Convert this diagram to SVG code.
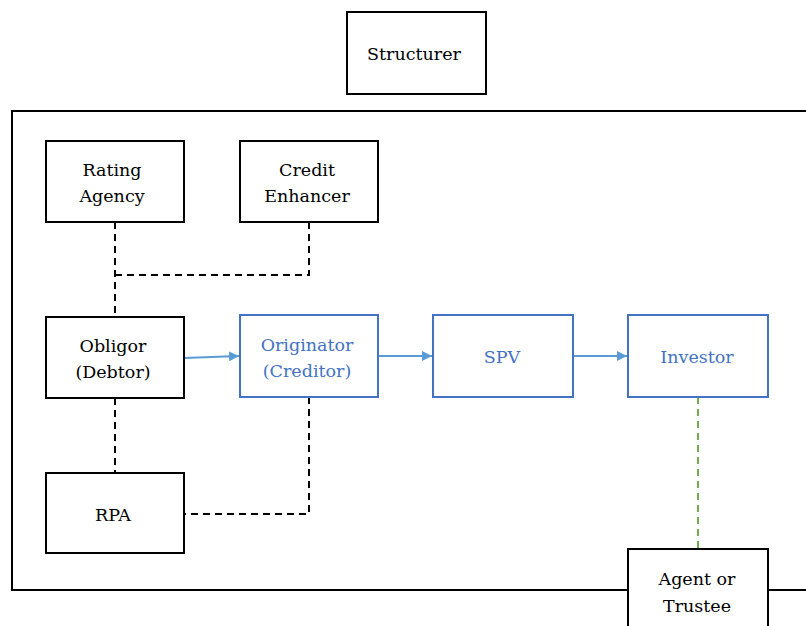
<svg xmlns="http://www.w3.org/2000/svg" width="806" height="626" viewBox="0 0 806 626">
<defs>
<style>
.b{fill:#fff;stroke:#000;stroke-width:2}
.bl{fill:#fff;stroke:#4472c4;stroke-width:2}
text{font-family:"DejaVu Serif","Liberation Serif",serif;font-size:17.5px;text-anchor:middle}
.t{fill:#000}
.tb{fill:#4472c4}
.d{fill:none;stroke:#000;stroke-width:2;stroke-dasharray:7,5}
.g{fill:none;stroke:#70ad47;stroke-width:2;stroke-dasharray:7,5}
.a{fill:none;stroke:#5b9bd5;stroke-width:2;marker-end:url(#ah)}
</style>
<marker id="ah" viewBox="0 0 10 10" refX="10" refY="5" markerWidth="5" markerHeight="5" orient="auto" markerUnits="strokeWidth">
<path d="M0,0 L10,5 L0,10 z" fill="#5b9bd5"/>
</marker>
</defs>
<rect width="806" height="626" fill="#fff"/>
<g id="frame"><rect x="12" y="111" width="796" height="479" fill="none" stroke="#000" stroke-width="2"/></g>
<g id="connectors">
<path class="d" d="M115,222 V317"/>
<path class="d" d="M309,222 V275 H115"/>
<path class="d" d="M115,398 V473"/>
<path class="d" d="M309,397 V514 H184"/>
<path class="g" d="M698,397 V549"/>
<path class="a" d="M184,358 L239,356"/>
<path class="a" d="M378,356 L432,356"/>
<path class="a" d="M573,356 L627,356"/>
</g>
<g id="structurer"><rect class="b" x="347" y="12" width="139" height="82"/><text class="t" x="414" y="60">Structurer</text></g>
<g id="rating"><rect class="b" x="46" y="141" width="138" height="81"/><text class="t" x="112" y="176">Rating</text><text class="t" x="112" y="202">Agency</text></g>
<g id="credit"><rect class="b" x="240" y="141" width="138" height="81"/><text class="t" x="307" y="176">Credit</text><text class="t" x="307" y="202">Enhancer</text></g>
<g id="obligor"><rect class="b" x="46" y="317" width="138" height="81"/><text class="t" x="113" y="352">Obligor</text><text class="t" x="113" y="378">(Debtor)</text></g>
<g id="originator"><rect class="bl" x="240" y="315" width="138" height="82"/><text class="tb" x="307" y="351">Originator</text><text class="tb" x="307" y="377">(Creditor)</text></g>
<g id="spv"><rect class="bl" x="433" y="315" width="140" height="82"/><text class="tb" x="502" y="363">SPV</text></g>
<g id="investor"><rect class="bl" x="628" y="315" width="140" height="82"/><text class="tb" x="697" y="363">Investor</text></g>
<g id="rpa"><rect class="b" x="46" y="473" width="138" height="80"/><text class="t" x="113" y="521">RPA</text></g>
<g id="agent"><rect class="b" x="628" y="549" width="140" height="90"/><text class="t" x="697" y="585">Agent or</text><text class="t" x="697" y="612">Trustee</text></g>
</svg>
